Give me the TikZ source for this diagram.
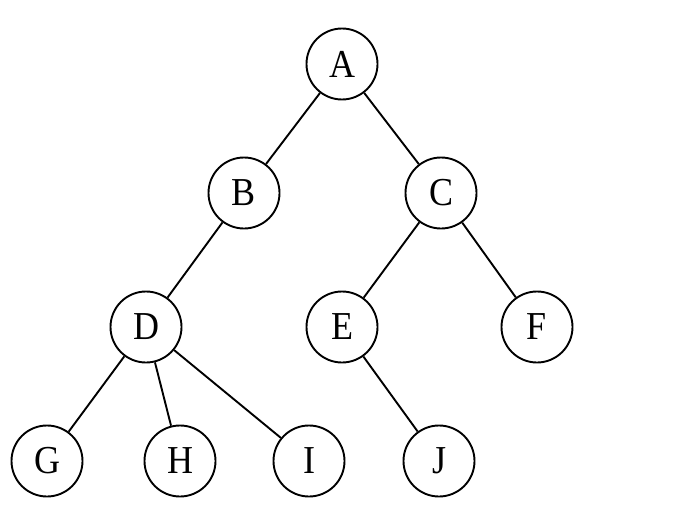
\documentclass[tikz,border=0pt]{standalone}
\usepackage{fontspec}
\setmainfont{Liberation Serif}
\newcommand{\tall}[1]{\scalebox{1}[1.1]{#1}}
\begin{document}
\begin{tikzpicture}[x=1pt,y=-1pt,
  tn/.style={circle,draw,line width=1.9pt,minimum size=71pt,inner sep=0pt,font=\fontsize{36}{36}\selectfont},
  ed/.style={line width=1.9pt}]
\useasboundingbox (0,0) rectangle (684,527);
\node[tn] (A) at (342,64) {\tall{A}};
\node[tn] (B) at (244,193) {\tall{B}};
\node[tn] (C) at (441,193) {\tall{C}};
\node[tn] (D) at (146,327) {\tall{D}};
\node[tn] (E) at (342,327) {\tall{E}};
\node[tn] (F) at (537,327) {\tall{F}};
\node[tn] (G) at (47,461) {\tall{G}};
\node[tn] (H) at (180,461) {\tall{H}};
\node[tn] (I) at (309,461) {\tall{I}};
\node[tn] (J) at (439,461) {\tall{J}};
\draw[ed] (A) -- (B);
\draw[ed] (A) -- (C);
\draw[ed] (B) -- (D);
\draw[ed] (C) -- (E);
\draw[ed] (C) -- (F);
\draw[ed] (D) -- (G);
\draw[ed] (D) -- (H);
\draw[ed] (D) -- (I);
\draw[ed] (E) -- (J);
\end{tikzpicture}
\end{document}
